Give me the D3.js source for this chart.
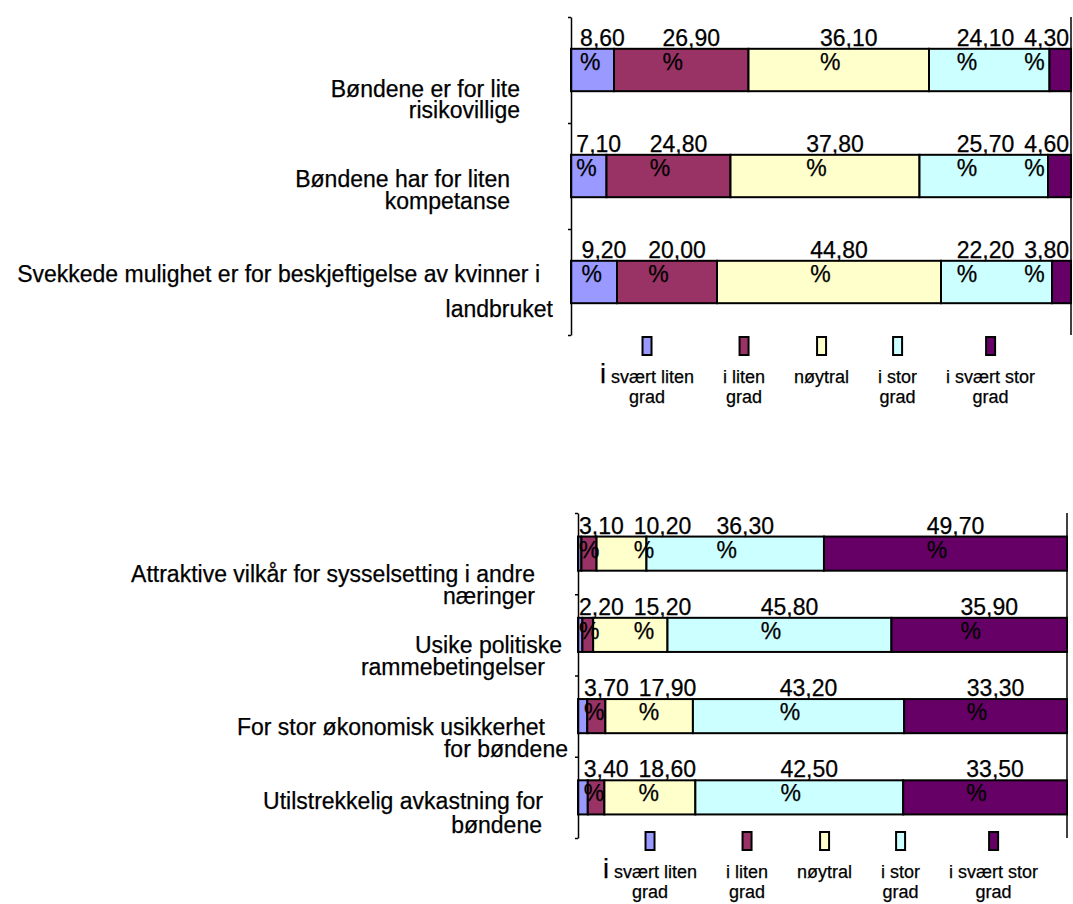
<!DOCTYPE html>
<html>
<head>
<meta charset="utf-8">
<style>
	body { margin: 0; background: #fff; }
	svg { display: block; font-family: "Liberation Sans", Arial, sans-serif; }
	text { fill: #000; stroke: #000; stroke-width: 0.25px; }
	.axis path, .axis line { stroke: #000; stroke-width: 1.5px; }
	.seg { stroke: #000; stroke-width: 2px; }
</style>
</head>
<body>
<svg id="chart" width="1073" height="904"></svg>
<script src="https://cdn.jsdelivr.net/npm/d3@7/dist/d3.min.js"></script>
<script>
	// series (same five answers in both charts)
	const seriesNames = ["i svært liten\ngrad", "i liten\ngrad", "nøytral", "i stor\ngrad", "i svært stor\ngrad"];
	const seriesColors = ["#9999FF", "#993366", "#FFFFCC", "#CCFFFF", "#660066"];

	// upper chart
	const topCategories = [
		"Bøndene er for lite\nrisikovillige",
		"Bøndene har for liten\nkompetanse",
		"Svekkede mulighet er for beskjeftigelse av kvinner i\nlandbruket"
	];
	const topSvaertLiten = [8.6, 7.1, 9.2];
	const topLiten = [26.9, 24.8, 20.0];
	const topNoytral = [36.1, 37.8, 44.8];
	const topStor = [24.1, 25.7, 22.2];
	const topSvaertStor = [4.3, 4.6, 3.8];

	// lower chart (first series has no value label in the original)
	const botCategories = [
		"Attraktive vilkår for sysselsetting i andre\nnæringer",
		"Usike politiske\nrammebetingelser",
		"For stor økonomisk usikkerhet\nfor bøndene",
		"Utilstrekkelig avkastning for\nbøndene"
	];
	const botSvaertLiten = [0.7, 0.9, 1.9, 2.0];
	const botLiten = [3.1, 2.2, 3.7, 3.4];
	const botNoytral = [10.2, 15.2, 17.9, 18.6];
	const botStor = [36.3, 45.8, 43.2, 42.5];
	const botSvaertStor = [49.7, 35.9, 33.3, 33.5];

	const fmt = v => v.toFixed(2).replace(".", ",");
	const svg = d3.select("#chart");

	function addText(g, x, y, str, size, anchor) {
		return g.append("text")
			.attr("x", x).attr("y", y)
			.attr("text-anchor", anchor || "start")
			.style("font-size", size + "px")
			.text(str);
	}

	function drawChart(cfg) {
		const g = svg.append("g");
		const n = cfg.categories.length;

		const x = d3.scaleLinear().domain([0, 100]).range([cfg.left, cfg.right]);
		const y = d3.scaleBand().domain(d3.range(n))
			.range([cfg.top, cfg.bottom])
			.paddingInner(cfg.padding)
			.paddingOuter(cfg.padding / 2);
		const yEdge = d3.scaleLinear().domain([0, n]).range([cfg.top, cfg.bottom]);

		// stack the series per row
		const rows = cfg.categories.map((c, i) => {
			let acc = 0;
			return cfg.series.map((vals, s) => {
				const d = { s: s, v: vals[i], x0: acc, x1: acc + vals[i], row: i };
				acc += vals[i];
				return d;
			});
		});

		// bars
		g.selectAll("rect.seg")
			.data(rows.flat())
			.join("rect")
			.attr("class", "seg")
			.attr("x", d => x(d.x0))
			.attr("y", d => y(d.row))
			.attr("width", d => x(d.x1) - x(d.x0))
			.attr("height", y.bandwidth())
			.attr("fill", d => seriesColors[d.s]);

		// left axis with ticks between categories
		g.append("g")
			.attr("class", "axis")
			.attr("transform", `translate(${cfg.left},0)`)
			.call(d3.axisLeft(yEdge).tickValues(d3.range(n + 1)).tickSize(3).tickSizeOuter(0).tickFormat(""));

		// right border
		g.append("line")
			.attr("x1", x(100)).attr("x2", x(100))
			.attr("y1", cfg.top).attr("y2", cfg.bottom)
			.attr("stroke", "#000").attr("stroke-width", 1.5);

		// category labels
		cfg.categories.forEach((c, i) => {
			const lay = cfg.labelLayout[i];
			const mid = (yEdge(i) + yEdge(i + 1)) / 2;
			c.split("\n").forEach((line, k) => {
				addText(g, lay.right[k], mid + lay.dy + k * lay.gap, line, 23, "end");
			});
		});

		// value labels: number above the bar top, % inside the bar
		rows.forEach((segs, i) => {
			const barTop = y(i);
			const items = segs.filter(d => cfg.labelled[d.s]).map(d => {
				const t = g.append("text").style("font-size", "23px").text(fmt(d.v));
				const w = t.node().getComputedTextLength();
				return { t: t, w: w, left: (x(d.x0) + x(d.x1)) / 2 + 10 - w / 2 };
			});
			const gap = 10;
			items[0].left = Math.max(items[0].left, cfg.left + 1);
			for (let k = 1; k < items.length; k++) {
				items[k].left = Math.max(items[k].left, items[k - 1].left + items[k - 1].w + gap);
			}
			let limit = cfg.right - 2;
			for (let k = items.length - 1; k >= 0; k--) {
				items[k].left = Math.min(items[k].left, limit - items[k].w);
				limit = items[k].left - gap;
			}
			items.forEach(it => {
				it.t.attr("x", it.left).attr("y", barTop - 3);
				addText(g, it.left, barTop + 21, "%", 23);
			});
		});

		// legend
		let cx = cfg.legendX;
		seriesNames.forEach((name, s) => {
			const lines = name.split("\n");
			const texts = lines.map((line, k) => {
				const t = g.append("text").attr("text-anchor", "middle").style("font-size", "18px");
				if (s === 0 && k === 0) {
					// the leading "i" is drawn larger in the original
					t.append("tspan").style("font-size", "27px").text(line.slice(0, 1));
					t.append("tspan").text(line.slice(1));
				} else {
					t.text(line);
				}
				return t;
			});
			const w = d3.max(texts, t => t.node().getComputedTextLength());
			const center = cx + w / 2;
			texts.forEach((t, k) => {
				t.attr("x", center).attr("y", cfg.legendY + 46 + k * 20);
			});
			g.append("rect")
				.attr("x", center - 4.5).attr("y", cfg.legendY)
				.attr("width", 9).attr("height", 18)
				.attr("fill", seriesColors[s])
				.attr("stroke", "#000").attr("stroke-width", 2);
			cx += w + 29;
		});
	}

	drawChart({
		categories: topCategories,
		series: [topSvaertLiten, topLiten, topNoytral, topStor, topSvaertStor],
		labelled: [true, true, true, true, true],
		left: 571, right: 1071, top: 17, bottom: 335, padding: 0.6,
		legendX: 600, legendY: 337,
		labelLayout: [
			{ right: [520, 520], dy: 27, gap: 21 },
			{ right: [510, 510], dy: 11, gap: 22 },
			{ right: [540, 553], dy: 0, gap: 35 }
		]
	});

	drawChart({
		categories: botCategories,
		series: [botSvaertLiten, botLiten, botNoytral, botStor, botSvaertStor],
		labelled: [false, true, true, true, true],
		left: 578, right: 1067, top: 513, bottom: 838, padding: 0.58,
		legendX: 603, legendY: 832,
		labelLayout: [
			{ right: [535, 535], dy: 28, gap: 22 },
			{ right: [562, 545], dy: 18, gap: 22 },
			{ right: [545, 568], dy: 19, gap: 22 },
			{ right: [543, 542], dy: 12, gap: 24 }
		]
	});
</script>
</body>
</html>
